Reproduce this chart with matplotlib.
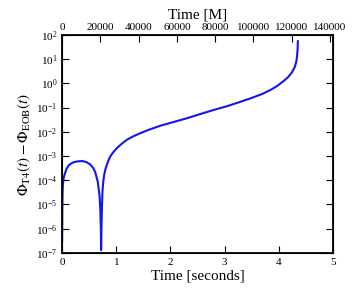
import numpy as np
import matplotlib.pyplot as plt

plt.rcParams['font.family'] = ['Liberation Serif', 'DejaVu Serif']
plt.rcParams['mathtext.fontset'] = 'stix'

# phase difference
t_sec = [0.0, 0.003, 0.008, 0.015, 0.03, 0.055, 0.08, 0.117, 0.16, 0.21, 0.28,
         0.37, 0.45, 0.517, 0.57, 0.61, 0.658, 0.69, 0.705, 0.715, 0.72,
         0.726, 0.735, 0.745, 0.76, 0.775, 0.80, 0.825, 0.855, 0.886, 0.94,
         1.01, 1.1, 1.19, 1.3, 1.44, 1.56, 1.68, 1.82, 1.96, 2.1, 2.3, 2.55,
         2.8, 3.05, 3.28, 3.5, 3.7, 3.85, 3.97, 4.08, 4.17, 4.24, 4.29, 4.32,
         4.335, 4.345, 4.352]
dphi = [3e-7, 5e-6, 3e-5, 7e-5, 1.3e-4, 2e-4, 2.9e-4, 4e-4, 4.8e-4, 5.5e-4, 6e-4,
        6.2e-4, 5.6e-4, 4.5e-4, 3.3e-4, 2.2e-4, 8.7e-5, 2.4e-5, 6e-6, 1e-6, 1.3e-7,
        1e-6, 8e-6, 3.5e-5, 9e-5, 1.6e-4, 2.9e-4, 4.3e-4, 6.5e-4, 9.4e-4, 1.4e-3,
        2.1e-3, 3.2e-3, 4.6e-3, 6.3e-3, 8.7e-3, 1.12e-2, 1.4e-2, 1.8e-2, 2.2e-2,
        2.7e-2, 3.6e-2, 5.4e-2, 8e-2, 0.115, 0.17, 0.25, 0.37, 0.54, 0.78, 1.2,
        1.8, 2.8, 4.5, 7.5, 12.0, 22.0, 55.0]

M_per_sec = 28320.0  # time in M per second

fig = plt.figure(figsize=(3.55, 2.91), dpi=100)
ax = fig.add_axes([0.175, 0.131, 0.763, 0.749])
ax.semilogy(t_sec, dphi, color='#1414f0', lw=1.5)
ax.set_xlim(0, 5)
ax.set_ylim(1e-7, 1e2)
ax.set_xlabel('Time [seconds]', fontsize=11, labelpad=2)
ax.set_ylabel(r'$\Phi_{\rm T4}(t) - \Phi_{\rm EOB}(t)$', fontsize=11, labelpad=2)
ax.set_yticks([10.0**k for k in range(-7, 3)])
ax.tick_params(which='both', direction='in', right=True, labelsize=8)
ax.tick_params(axis='x', top=False)
ax.tick_params(which='major', length=5)
ax.tick_params(which='minor', length=3)
for s in ax.spines.values():
    s.set_linewidth(1.3)

ax2 = ax.twiny()
ax2.set_xlim(0, 5 * M_per_sec)
ax2.set_xticks(np.arange(0, 140001, 20000))
ax2.set_xlabel('Time [M]', fontsize=11, labelpad=3)
ax2.tick_params(direction='in', labelsize=8, length=5, pad=2)

fig.savefig('out.png', dpi=100)
